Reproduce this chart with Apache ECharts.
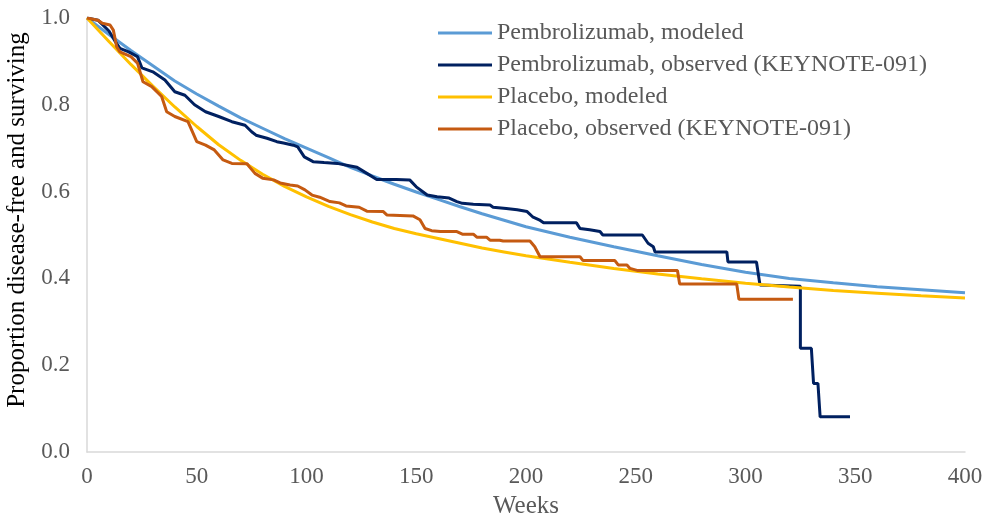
<!DOCTYPE html>
<html>
<head>
    <meta charset="UTF-8">
    <script src="https://cdn.jsdelivr.net/npm/echarts@6/dist/echarts.min.js"></script>
</head>
<body style="margin:0;background:#ffffff;">
    <div id="main" style="width:986px;height:520px;"></div>
    <script type="text/javascript">
        // modeled curves (read at fixed weeks)
        var modeledWeeks = [0, 10, 20, 30, 40, 50, 60, 70, 80, 90, 100, 110, 120, 130, 140, 150, 160, 170, 180, 190, 200, 220, 240, 260, 280, 300, 320, 340, 360, 380, 400];
        var pembroModeled = [1.000, 0.962, 0.925, 0.890, 0.855, 0.825, 0.797, 0.770, 0.746, 0.722, 0.700, 0.678, 0.656, 0.636, 0.617, 0.599, 0.582, 0.565, 0.549, 0.534, 0.519, 0.495, 0.473, 0.452, 0.432, 0.414, 0.400, 0.390, 0.381, 0.374, 0.367];
        var placeboModeled = [1.000, 0.946, 0.893, 0.843, 0.795, 0.750, 0.708, 0.672, 0.640, 0.612, 0.588, 0.566, 0.547, 0.530, 0.515, 0.503, 0.492, 0.481, 0.470, 0.461, 0.452, 0.437, 0.423, 0.410, 0.399, 0.389, 0.380, 0.372, 0.366, 0.360, 0.355];

        // observed KEYNOTE-091 curves (step corners)
        var pembroObsWeeks = [0, 5, 10, 13, 15, 19, 23, 25, 30, 35.5, 40, 44.6, 49, 54, 60, 66, 72, 75, 77, 82, 86.5, 89.5, 94, 96, 99, 103, 108, 114, 120, 123, 127.5, 132, 141, 147, 150, 155, 159.5, 165, 168.5, 171, 176, 183.6, 185, 191, 196, 200.5, 203, 206, 208, 223, 224.6, 229, 233.7, 235, 253, 255.6, 258, 258.8, 291.5, 292, 305, 306.6, 325, 325, 330, 331, 333, 334, 347.6];
        var pembroObs = [1.0, 0.995, 0.97, 0.945, 0.93, 0.922, 0.911, 0.885, 0.876, 0.857, 0.83, 0.822, 0.80, 0.784, 0.773, 0.761, 0.753, 0.738, 0.73, 0.723, 0.715, 0.712, 0.707, 0.703, 0.68, 0.669, 0.667, 0.665, 0.659, 0.656, 0.642, 0.628, 0.628, 0.627, 0.611, 0.592, 0.588, 0.585, 0.577, 0.573, 0.571, 0.569, 0.564, 0.561, 0.558, 0.554, 0.542, 0.535, 0.528, 0.528, 0.515, 0.512, 0.508, 0.5, 0.5, 0.481, 0.473, 0.461, 0.461, 0.438, 0.438, 0.385, 0.382, 0.239, 0.239, 0.158, 0.158, 0.081, 0.081];
        var placeboObsWeeks = [0, 5, 7, 10.5, 12, 13.5, 15, 20, 23, 25.5, 29.5, 34, 36.3, 40, 46, 48, 50, 54, 58, 62, 66, 73, 74, 76.5, 80, 85, 88, 92.5, 96, 99.3, 102.5, 106, 110.7, 115, 118, 124, 127.5, 135, 136.7, 148.5, 151.7, 154, 157, 161, 168.5, 171, 176, 177.6, 182, 183.6, 188, 189.6, 201.8, 204, 206.4, 224.6, 226, 240.5, 242, 246, 247.4, 251, 269, 270, 296, 297, 321.6];
        var placeboObs = [1.0, 0.995, 0.988, 0.984, 0.972, 0.934, 0.922, 0.911, 0.896, 0.853, 0.842, 0.819, 0.784, 0.773, 0.761, 0.738, 0.715, 0.707, 0.696, 0.673, 0.665, 0.664, 0.657, 0.642, 0.631, 0.627, 0.62, 0.615, 0.613, 0.604, 0.592, 0.587, 0.577, 0.574, 0.567, 0.564, 0.555, 0.554, 0.546, 0.544, 0.535, 0.515, 0.51, 0.508, 0.508, 0.502, 0.502, 0.495, 0.495, 0.488, 0.488, 0.486, 0.486, 0.473, 0.45, 0.45, 0.441, 0.441, 0.431, 0.431, 0.423, 0.418, 0.418, 0.387, 0.387, 0.352, 0.352];

        var xTicks = [0, 50, 100, 150, 200, 250, 300, 350, 400];
        var yTicks = [0.0, 0.2, 0.4, 0.6, 0.8, 1.0];

        function pairs(xs, ys) {
            var out = [];
            for (var i = 0; i < xs.length; i++) {
                out.push([xs[i], ys[i]]);
            }
            return out;
        }

        var font = '"Liberation Serif", "Times New Roman", serif';
        var grey = '#595959';

        var myChart = echarts.init(document.getElementById('main'));

        var option = {
            animation: false,
            grid: { left: 87, right: 21, top: 18, bottom: 68, containLabel: false, outerBoundsMode: 'none' },
            legend: {
                orient: 'vertical',
                left: 438,
                top: 21,
                padding: 0,
                itemWidth: 54,
                itemHeight: 3,
                itemGap: 8,
                icon: 'rect',
                textStyle: { fontFamily: font, fontSize: 24, color: grey, lineHeight: 24 },
                data: ['Pembrolizumab, modeled', 'Pembrolizumab, observed (KEYNOTE-091)', 'Placebo, modeled', 'Placebo, observed (KEYNOTE-091)']
            },
            xAxis: {
                type: 'value',
                min: xTicks[0],
                max: xTicks[xTicks.length - 1],
                interval: xTicks[1] - xTicks[0],
                name: 'Weeks',
                nameLocation: 'middle',
                nameGap: 42,
                nameTextStyle: { fontFamily: font, fontSize: 25, color: grey },
                axisLine: { lineStyle: { color: '#D9D9D9', width: 1.5 } },
                axisTick: { show: false },
                splitLine: { show: false },
                axisLabel: { fontFamily: font, fontSize: 23, color: grey, margin: 13 }
            },
            yAxis: {
                type: 'value',
                min: yTicks[0],
                max: yTicks[yTicks.length - 1],
                interval: 0.2,
                name: 'Proportion disease-free and surviving',
                nameLocation: 'middle',
                nameGap: 55,
                nameTextStyle: { fontFamily: font, fontSize: 25, color: '#000000', padding: [0, 0, 0, 30] },
                axisLine: { show: true, lineStyle: { color: '#D9D9D9', width: 1.5 } },
                axisTick: { show: false },
                splitLine: { show: false },
                axisLabel: {
                    fontFamily: font, fontSize: 23, color: grey, margin: 17,
                    formatter: function (v) { return v.toFixed(1); }
                }
            },
            series: [
                {
                    name: 'Pembrolizumab, modeled',
                    type: 'line',
                    symbol: 'none',
                    itemStyle: { color: '#5B9BD5' },
                    lineStyle: { color: '#5B9BD5', width: 3 },
                    data: pairs(modeledWeeks, pembroModeled)
                },
                {
                    name: 'Pembrolizumab, observed (KEYNOTE-091)',
                    type: 'line',
                    symbol: 'none',
                    itemStyle: { color: '#002060' },
                    lineStyle: { color: '#002060', width: 3 },
                    data: pairs(pembroObsWeeks, pembroObs)
                },
                {
                    name: 'Placebo, modeled',
                    type: 'line',
                    symbol: 'none',
                    itemStyle: { color: '#FFC000' },
                    lineStyle: { color: '#FFC000', width: 3 },
                    data: pairs(modeledWeeks, placeboModeled)
                },
                {
                    name: 'Placebo, observed (KEYNOTE-091)',
                    type: 'line',
                    symbol: 'none',
                    itemStyle: { color: '#C55A11' },
                    lineStyle: { color: '#C55A11', width: 3 },
                    data: pairs(placeboObsWeeks, placeboObs)
                }
            ]
        };

        myChart.setOption(option);
    </script>
</body>
</html>
